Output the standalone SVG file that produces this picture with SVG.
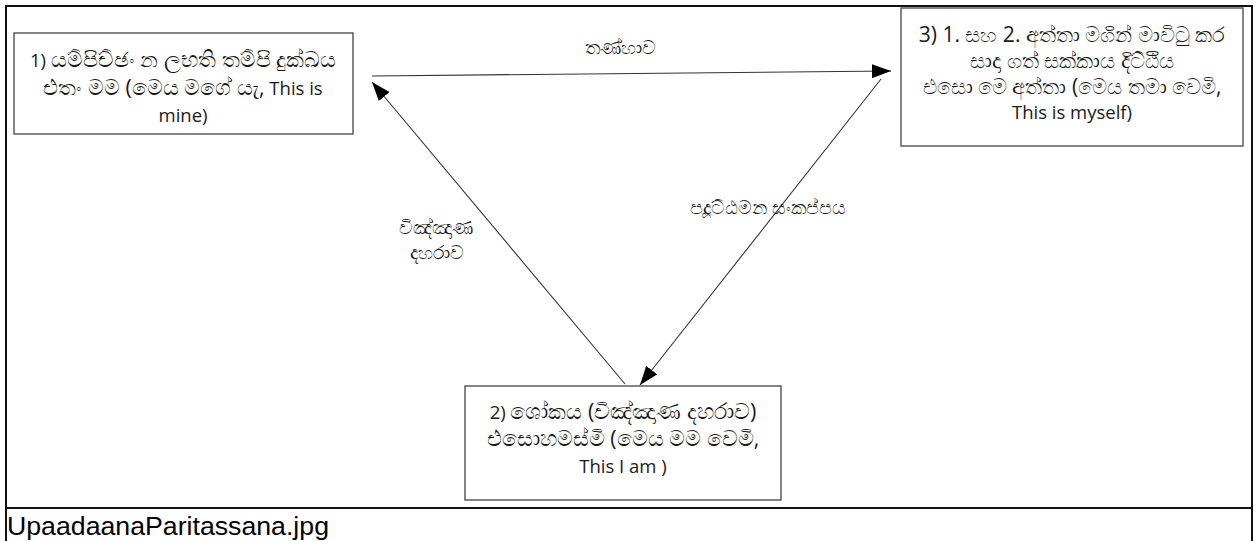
<svg xmlns="http://www.w3.org/2000/svg" width="1258" height="541" viewBox="0 0 1258 541">
<style>
.frame{fill:none;stroke:#111;stroke-width:2}
.box{fill:#fff;stroke:#444;stroke-width:1.3}
.t{font-family:"Open Sans","Noto Sans",sans-serif;font-size:18.5px;fill:#1a1a1a;text-anchor:middle}
.s{font-size:21.5px}
.t3{font-family:"Open Sans","Noto Sans",sans-serif;font-size:21px;fill:#1a1a1a;text-anchor:middle}
.lbl{font-family:"Open Sans","Noto Sans",sans-serif;font-size:18.5px;fill:#1a1a1a;text-anchor:middle}
.cap{font-family:"Liberation Sans",Arial,sans-serif;font-size:26.7px;fill:#000}
.ln{fill:none;stroke:#333;stroke-width:1.1}
</style>
<defs>
<marker id="ah" markerUnits="userSpaceOnUse" markerWidth="20" markerHeight="14" refX="19" refY="7" orient="auto">
<path d="M0,0 L19,7 L0,14 Z" fill="#000"/>
</marker>
</defs>
<rect width="1258" height="541" fill="#fff"/>
<g id="frame">
<line class="frame" x1="5" y1="6" x2="1253" y2="6"/>
<line class="frame" x1="6" y1="5" x2="6" y2="541"/>
<line class="frame" x1="1252" y1="5" x2="1252" y2="541"/>
<line class="frame" x1="5" y1="508" x2="1253" y2="508"/>
</g>
<g id="connectors">
<line class="ln" x1="372" y1="76" x2="891" y2="71" marker-end="url(#ah)"/>
<line class="ln" x1="881" y1="79" x2="640" y2="385" marker-end="url(#ah)"/>
<line class="ln" x1="625" y1="384" x2="372" y2="82" marker-end="url(#ah)"/>
<text class="lbl" x="620" y="54">තණ්හාව</text>
<text class="lbl" x="768" y="214">පදූට්ඨමන සංකප්පය</text>
<text class="lbl" x="436" y="234">විඤ්ඤාණ</text>
<text class="lbl" x="437" y="259">දහරාව</text>
</g>
<g id="node1">
<rect class="box" x="14" y="33" width="339" height="101"/>
<text class="t" x="183" y="67">1) <tspan class="s">යම්පිච්ඡං න ලභති තම්පි දුක්ඛය</tspan></text>
<text class="t" x="183" y="95"><tspan class="s">එතං මම (මෙය මගේ යැ,</tspan> This is</text>
<text class="t" x="183" y="122">mine)</text>
</g>
<g id="node3">
<rect class="box" x="901" y="8" width="342" height="138"/>
<text class="t3" x="1072" y="42">3) 1. සහ 2. අත්තා  මගින් මාවිටු කර</text>
<text class="t3" x="1072" y="68">සාදා ගත් සක්කාය දිට්ඨිය</text>
<text class="t3" x="1072" y="94">එසො මෙ අත්තා (මෙය තමා වෙමි,</text>
<text class="t" x="1072" y="119">This is myself)</text>
</g>
<g id="node2">
<rect class="box" x="465" y="386" width="316" height="114"/>
<text class="t" x="623" y="419">2) <tspan class="s">ශෝකය (විඤ්ඤාණ දහරාව)</tspan></text>
<text class="t" x="623" y="446"><tspan class="s">එසොහමස්මි (මෙය මම වෙමි,</tspan></text>
<text class="t" x="623" y="473">This I am )</text>
</g>
<g id="caption">
<text class="cap" x="7" y="535">UpaadaanaParitassana.jpg</text>
</g>
</svg>
